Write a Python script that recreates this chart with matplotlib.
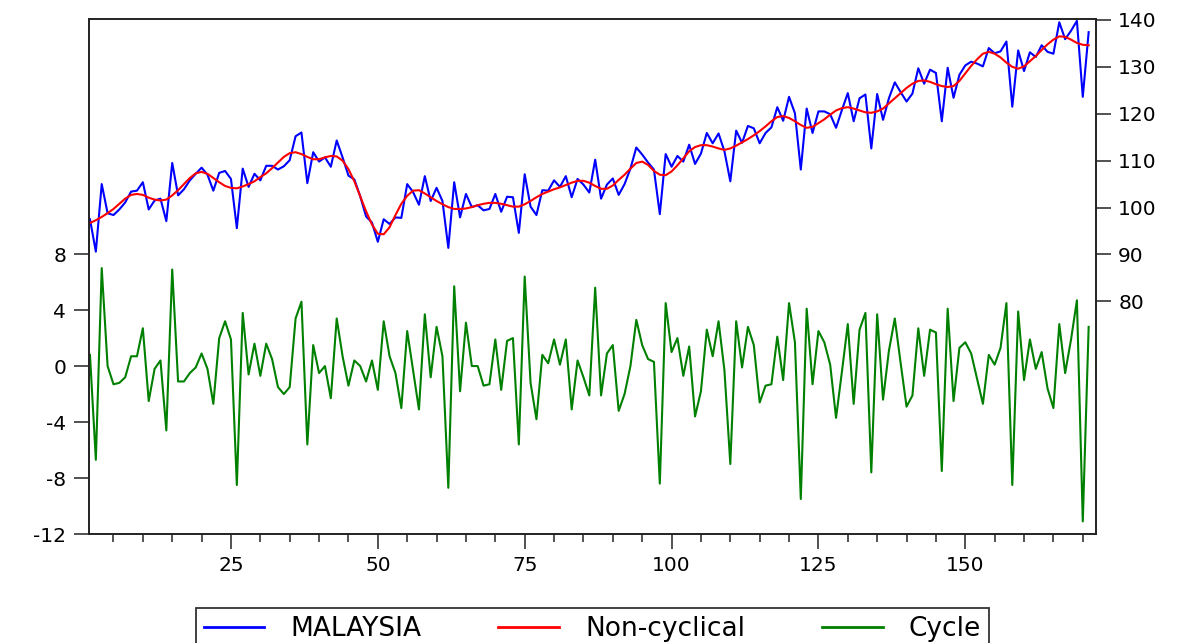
import matplotlib
matplotlib.use("Agg")
import matplotlib.pyplot as plt
from matplotlib.ticker import FixedLocator, MultipleLocator
from matplotlib.lines import Line2D

# HP filter decomposition of the MALAYSIA series (observations 1..171)
obs = list(range(1, 172))

malaysia = [
    97.5, 90.6, 105.0, 98.8, 98.4, 99.6, 101.1, 103.4, 103.6, 105.4,
    99.6, 101.5, 101.9, 97.1, 109.5, 102.6, 103.9, 105.8, 107.2, 108.5,
    107.0, 103.6, 107.4, 107.8, 106.1, 95.6, 108.3, 104.4, 107.2, 105.8,
    108.9, 108.9, 108.1, 108.8, 110.1, 115.2, 116.0, 105.2, 111.8, 109.8,
    110.7, 108.7, 114.3, 110.7, 106.8, 106.0, 102.4, 98.1, 96.8, 92.7,
    97.5, 96.5, 97.9, 97.8, 105.0, 103.3, 100.6, 106.7, 101.4, 104.2,
    101.4, 91.4, 105.4, 97.9, 102.9, 100.1, 100.5, 99.4, 99.7, 102.9,
    99.1, 102.3, 102.2, 94.6, 107.1, 100.2, 98.4, 103.7, 103.6, 105.8,
    104.4, 106.7, 102.2, 106.1, 104.9, 103.2, 110.2, 101.9, 104.9, 106.2,
    102.7, 105.0, 108.3, 112.8, 111.3, 109.6, 108.1, 98.6, 111.4, 108.7,
    111.0, 109.8, 113.4, 109.3, 111.5, 115.9, 113.7, 115.8, 112.0, 105.6,
    116.4, 113.8, 117.4, 116.9, 113.7, 115.9, 117.1, 121.4, 118.5, 123.6,
    120.1, 108.1, 121.1, 115.9, 120.5, 120.5, 119.9, 117.0, 120.8, 124.4,
    118.4, 123.3, 124.1, 112.6, 124.2, 118.7, 123.3, 126.7, 124.6, 122.6,
    124.3, 129.7, 126.4, 129.4, 128.7, 118.4, 129.8, 123.4, 128.3, 130.3,
    131.1, 130.7, 130.1, 134.0, 132.9, 133.3, 135.4, 121.5, 133.5, 129.1,
    133.1, 132.1, 134.6, 133.2, 132.8, 139.5, 135.9, 137.7, 139.8, 123.6,
    137.4,
]

trend = [
    96.7, 97.3, 98.0, 98.8, 99.7, 100.8, 101.9, 102.7, 102.9, 102.7,
    102.1, 101.7, 101.5, 101.7, 102.6, 103.7, 105.0, 106.3, 107.3, 107.6,
    107.2, 106.3, 105.4, 104.6, 104.2, 104.1, 104.5, 105.0, 105.6, 106.5,
    107.3, 108.4, 109.6, 110.8, 111.6, 111.8, 111.4, 110.8, 110.3, 110.3,
    110.7, 111.0, 110.9, 110.0, 108.2, 105.6, 102.4, 99.2, 96.4, 94.4,
    94.3, 95.8, 98.4, 100.8, 102.5, 103.6, 103.7, 103.0, 102.2, 101.4,
    100.7, 100.1, 99.7, 99.7, 99.8, 100.1, 100.5, 100.8, 101.0, 101.0,
    100.8, 100.5, 100.2, 100.2, 100.7, 101.4, 102.2, 102.9, 103.4, 103.9,
    104.3, 104.8, 105.3, 105.7, 105.7, 105.3, 104.6, 104.0, 104.0, 104.7,
    105.9, 107.0, 108.3, 109.5, 109.8, 109.1, 107.8, 107.0, 106.9, 107.7,
    109.0, 110.5, 112.0, 112.9, 113.3, 113.3, 113.0, 112.6, 112.3, 112.6,
    113.2, 113.9, 114.6, 115.4, 116.3, 117.3, 118.4, 119.3, 119.5, 119.1,
    118.4, 117.6, 117.0, 117.2, 118.0, 118.8, 119.8, 120.7, 121.2, 121.4,
    121.1, 120.7, 120.3, 120.2, 120.5, 121.1, 122.2, 123.3, 124.4, 125.5,
    126.4, 127.0, 127.1, 126.8, 126.3, 125.9, 125.7, 125.9, 127.0, 128.6,
    130.2, 131.6, 132.8, 133.2, 132.8, 132.0, 130.9, 130.0, 129.6, 130.1,
    131.2, 132.3, 133.6, 134.8, 135.8, 136.5, 136.4, 135.8, 135.1, 134.7,
    134.6,
]

cycle = [
    0.8, -6.7, 7.0, 0.0, -1.3, -1.2, -0.8, 0.7, 0.7, 2.7,
    -2.5, -0.2, 0.4, -4.6, 6.9, -1.1, -1.1, -0.5, -0.1, 0.9,
    -0.2, -2.7, 2.0, 3.2, 1.9, -8.5, 3.8, -0.6, 1.6, -0.7,
    1.6, 0.5, -1.5, -2.0, -1.5, 3.4, 4.6, -5.6, 1.5, -0.5,
    0.0, -2.3, 3.4, 0.7, -1.4, 0.4, 0.0, -1.1, 0.4, -1.7,
    3.2, 0.7, -0.5, -3.0, 2.5, -0.3, -3.1, 3.7, -0.8, 2.8,
    0.7, -8.7, 5.7, -1.8, 3.1, 0.0, 0.0, -1.4, -1.3, 1.9,
    -1.7, 1.8, 2.0, -5.6, 6.4, -1.2, -3.8, 0.8, 0.2, 1.9,
    0.1, 1.9, -3.1, 0.4, -0.8, -2.1, 5.6, -2.1, 0.9, 1.5,
    -3.2, -2.0, 0.0, 3.3, 1.5, 0.5, 0.3, -8.4, 4.5, 1.0,
    2.0, -0.7, 1.4, -3.6, -1.8, 2.6, 0.7, 3.2, -0.3, -7.0,
    3.2, -0.1, 2.8, 1.5, -2.6, -1.4, -1.3, 2.1, -1.0, 4.5,
    1.7, -9.5, 4.1, -1.3, 2.5, 1.7, 0.1, -3.7, -0.4, 3.0,
    -2.7, 2.6, 3.8, -7.6, 3.7, -2.4, 1.1, 3.4, 0.2, -2.9,
    -2.1, 2.7, -0.7, 2.6, 2.4, -7.5, 4.1, -2.5, 1.3, 1.7,
    0.9, -0.9, -2.7, 0.8, 0.1, 1.3, 4.5, -8.5, 3.9, -1.0,
    1.9, -0.2, 1.0, -1.6, -3.0, 3.0, -0.5, 1.9, 4.7, -11.1,
    2.8,
]

labels = ["MALAYSIA", "Non-cyclical", "Cycle"]
colors = ["#0000ff", "#ff0000", "#008000"]

left_ticks = [-12, -8, -4, 0, 4, 8]
right_ticks = [80, 90, 100, 110, 120, 130, 140]
x_ticks = [25, 50, 75, 100, 125, 150]

plt.rcParams["font.family"] = ["DejaVu Sans"]
plt.rcParams["axes.unicode_minus"] = False

W, H = 1192, 643
fig = plt.figure(figsize=(W / 100, H / 100), dpi=100)
fig.patch.set_facecolor("white")

# axes box in pixel terms (left, right, top, bottom)
l, r, t, b = 88.5, 1096, 19, 534
ax = fig.add_axes([l / W, 1 - b / H, (r - l) / W, (b - t) / H])
ax2 = ax.twinx()

ax.plot(obs, cycle, color=colors[2], lw=1.5)
ax2.plot(obs, malaysia, color=colors[0], lw=1.5)
ax2.plot(obs, trend, color=colors[1], lw=1.5)

ax.set_xlim(0.75, 172.25)
ax.set_ylim(-12, 24.8)
ax2.set_ylim(30.4, 140.2)

ax.xaxis.set_major_locator(FixedLocator(x_ticks))
ax.xaxis.set_minor_locator(MultipleLocator(5))
ax.yaxis.set_major_locator(FixedLocator(left_ticks))
ax2.yaxis.set_major_locator(FixedLocator(right_ticks))

ax.tick_params(axis="x", which="major", direction="out", length=11, width=1.1,
               pad=5, labelsize=14.5, color="#222222")
ax.tick_params(axis="x", which="minor", direction="out", length=5.5, width=1.1,
               color="#222222")
ax.tick_params(axis="y", direction="out", length=10.5, width=1.1, pad=5.5,
               labelsize=14.5, color="#222222")
ax2.tick_params(axis="y", direction="out", length=10.5, width=1.1, pad=5.5,
                labelsize=14.5, color="#222222")

for a in (ax, ax2):
    for s in a.spines.values():
        s.set_linewidth(1.2)
        s.set_color("#222222")

handles = [Line2D([], [], color=c, lw=2) for c in colors]
leg = fig.legend(handles, labels, ncol=3, loc="upper center",
                 bbox_to_anchor=(0.497, 1 - 608 / H), borderaxespad=0,
                 fontsize=19, frameon=True, fancybox=False, edgecolor="black",
                 handlelength=2.3, handletextpad=1.0, columnspacing=2.9,
                 borderpad=0.3)
leg.get_frame().set_linewidth(1.3)

fig.savefig("out.png", dpi=100)
